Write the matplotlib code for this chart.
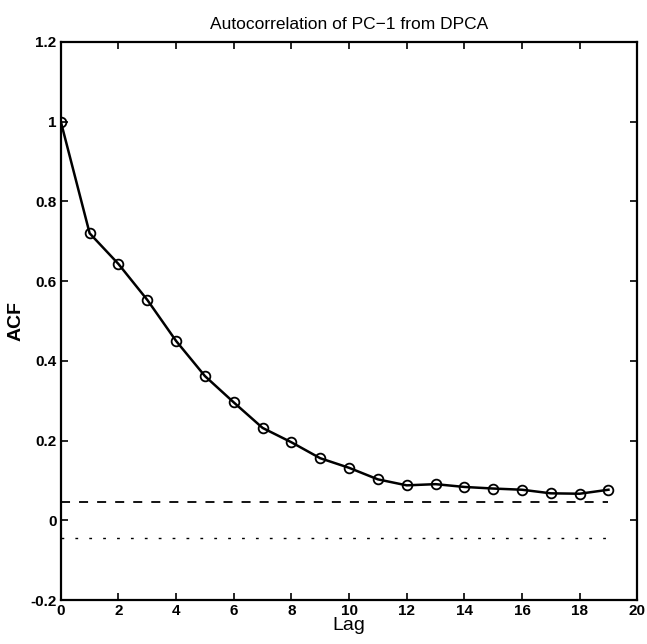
import matplotlib
matplotlib.use("Agg")
import matplotlib.pyplot as plt

# Autocorrelation of the first principal component (dynamic PCA)
lags = list(range(20))
acf = [1.0, 0.72, 0.643, 0.553, 0.45, 0.362, 0.296, 0.232, 0.196, 0.156,
       0.132, 0.103, 0.088, 0.091, 0.084, 0.080, 0.077, 0.068, 0.067, 0.077]
conf_upper = 0.045
conf_lower = -0.045

xticks = [0, 2, 4, 6, 8, 10, 12, 14, 16, 18, 20]
yticks = [-0.2, 0, 0.2, 0.4, 0.6, 0.8, 1.0, 1.2]
ytick_labels = ["-0.2", "0", "0.2", "0.4", "0.6", "0.8", "1", "1.2"]

plt.rcParams["font.family"] = ["Liberation Sans", "DejaVu Sans"]

fig = plt.figure(figsize=(6.47, 6.44), dpi=100)
ax = fig.add_axes([0.094, 0.068, 0.891, 0.867])

ax.plot(lags, acf, color="black", linewidth=1.8, marker="o", markersize=7,
        markerfacecolor="none", markeredgecolor="black", markeredgewidth=1.3)
ax.plot([lags[0], lags[-1]], [conf_upper, conf_upper], color="black",
        linewidth=1.3, linestyle=(0, (5, 5)))
ax.plot([lags[0], lags[-1]], [conf_lower, conf_lower], color="black",
        linewidth=1.0, linestyle=(0, (2, 8)))

ax.set_xlim(0, 20)
ax.set_ylim(-0.2, 1.2)
ax.set_xticks(xticks)
ax.set_xticklabels([str(t) for t in xticks], fontweight="bold", fontsize=11)
ax.set_yticks(yticks)
ax.set_yticklabels(ytick_labels, fontweight="bold", fontsize=11)
ax.tick_params(direction="in", top=True, right=True, length=5, width=1.2, pad=3)
for sp in ax.spines.values():
    sp.set_linewidth(1.6)

ax.set_title("Autocorrelation of PC\u22121 from DPCA", fontsize=12.5, pad=9)
ax.set_xlabel("Lag", fontsize=14, labelpad=-1)
ax.set_ylabel("ACF", fontsize=14, fontweight="bold", labelpad=4)

fig.savefig("out.png", dpi=100)
